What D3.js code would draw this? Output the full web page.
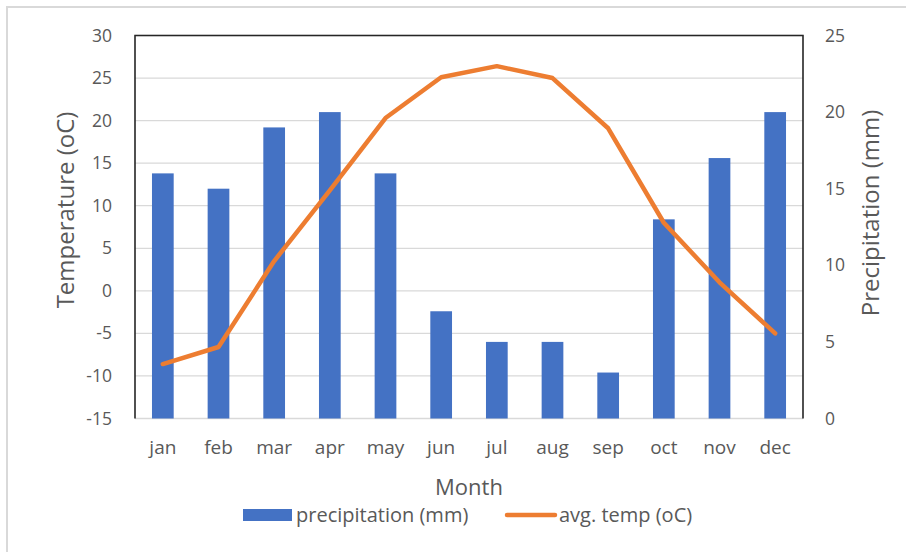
<!DOCTYPE html>
<html>
<head>
<meta charset="utf-8">
<script src="https://cdn.jsdelivr.net/npm/d3@7"></script>
<style>
  html, body { margin: 0; padding: 0; background: #fff; }
  svg text { font-family: "Open Sans", "Liberation Sans", sans-serif; fill: #595959; }
</style>
</head>
<body>
<svg id="chart" width="906" height="552"></svg>
<script>
// Monthly climate data
const months = ["jan","feb","mar","apr","may","jun","jul","aug","sep","oct","nov","dec"];
const precipitation = [16, 15, 19, 20, 16, 7, 5, 5, 3, 13, 17, 20];          // mm
const avgTemp = [-8.6, -6.6, 3.5, 11.8, 20.3, 25.1, 26.4, 25.0, 19.1, 8.0, 1.0, -5.0]; // °C
const tempTicks = [-15, -10, -5, 0, 5, 10, 15, 20, 25, 30];
const precipTicks = [0, 5, 10, 15, 20, 25];

const svg = d3.select("#chart");

// outer chart frame
svg.append("rect")
  .attr("x", 7).attr("y", 7).attr("width", 940).attr("height", 600)
  .attr("fill", "none").attr("stroke", "#d9d9d9").attr("stroke-width", 2);

const plot = { left: 135, right: 803, top: 35.5, bottom: 418.5 };

const x = d3.scaleBand().domain(months).range([plot.left, plot.right]).padding(0);
const yT = d3.scaleLinear().domain([-15, 30]).range([plot.bottom, plot.top]);
const yP = d3.scaleLinear().domain([0, 25]).range([plot.bottom, plot.top]);

// plain hyphen for negative numbers
const fmt = d => String(d);

// horizontal gridlines
svg.append("g")
  .selectAll("line")
  .data(tempTicks)
  .join("line")
  .attr("x1", plot.left).attr("x2", plot.right)
  .attr("y1", d => yT(d)).attr("y2", d => yT(d))
  .attr("stroke", "#d9d9d9").attr("stroke-width", 1.3);

// precipitation bars
const barW = x.bandwidth() * 0.39;
svg.append("g")
  .selectAll("rect")
  .data(months)
  .join("rect")
  .attr("x", (m) => x(m) + x.bandwidth() / 2 - barW / 2)
  .attr("width", barW)
  .attr("y", (m, i) => yP(precipitation[i]))
  .attr("height", (m, i) => yP(0) - yP(precipitation[i]))
  .attr("fill", "#4472C4");

// temperature line
const line = d3.line()
  .x((d, i) => x(months[i]) + x.bandwidth() / 2)
  .y(d => yT(d));
svg.append("path")
  .datum(avgTemp)
  .attr("d", line)
  .attr("fill", "none")
  .attr("stroke", "#ED7D31")
  .attr("stroke-width", 4.5)
  .attr("stroke-linejoin", "round")
  .attr("stroke-linecap", "round");

// plot frame: left, top, right in black
svg.append("path")
  .attr("d", `M${plot.left},${plot.bottom}V${plot.top}H${plot.right}V${plot.bottom}`)
  .attr("fill", "none").attr("stroke", "#262626").attr("stroke-width", 1.6);

// left axis labels
const leftAxis = d3.axisLeft(yT).tickValues(tempTicks).tickFormat(fmt).tickSize(0).tickPadding(23);
const gL = svg.append("g").attr("transform", `translate(${plot.left},0)`).call(leftAxis);
gL.select(".domain").remove();
gL.selectAll("text").style("font-size", "17.5px").attr("fill", "#595959");

// right axis labels
const rightAxis = d3.axisRight(yP).tickValues(precipTicks).tickFormat(fmt).tickSize(0).tickPadding(22);
const gR = svg.append("g").attr("transform", `translate(${plot.right},0)`).call(rightAxis);
gR.select(".domain").remove();
gR.selectAll("text").style("font-size", "17.5px").attr("fill", "#595959");

// month labels
const bottomAxis = d3.axisBottom(x).tickSize(0).tickPadding(22);
const gB = svg.append("g").attr("transform", `translate(0,${plot.bottom})`).call(bottomAxis);
gB.select(".domain").remove();
gB.selectAll("text").style("font-size", "19px").attr("fill", "#595959");

// axis titles
svg.append("text")
  .attr("transform", "translate(74,210) rotate(-90)")
  .attr("text-anchor", "middle")
  .style("font-size", "24px")
  .text("Temperature (oC)");

svg.append("text")
  .attr("transform", "translate(879,213) rotate(-90)")
  .attr("text-anchor", "middle")
  .style("font-size", "24px")
  .text("Precipitation (mm)");

svg.append("text")
  .attr("x", 469).attr("y", 495)
  .attr("text-anchor", "middle")
  .style("font-size", "22px")
  .text("Month");

// legend
const legend = svg.append("g");
legend.append("rect")
  .attr("x", 243).attr("y", 509).attr("width", 49).attr("height", 12)
  .attr("fill", "#4472C4");
legend.append("text")
  .attr("x", 296).attr("y", 522)
  .style("font-size", "20px")
  .text("precipitation (mm)");
legend.append("line")
  .attr("x1", 507).attr("x2", 555).attr("y1", 515).attr("y2", 515)
  .attr("stroke", "#ED7D31").attr("stroke-width", 4.5).attr("stroke-linecap", "round");
legend.append("text")
  .attr("x", 559).attr("y", 522)
  .style("font-size", "20px")
  .text("avg. temp (oC)");
</script>
</body>
</html>
